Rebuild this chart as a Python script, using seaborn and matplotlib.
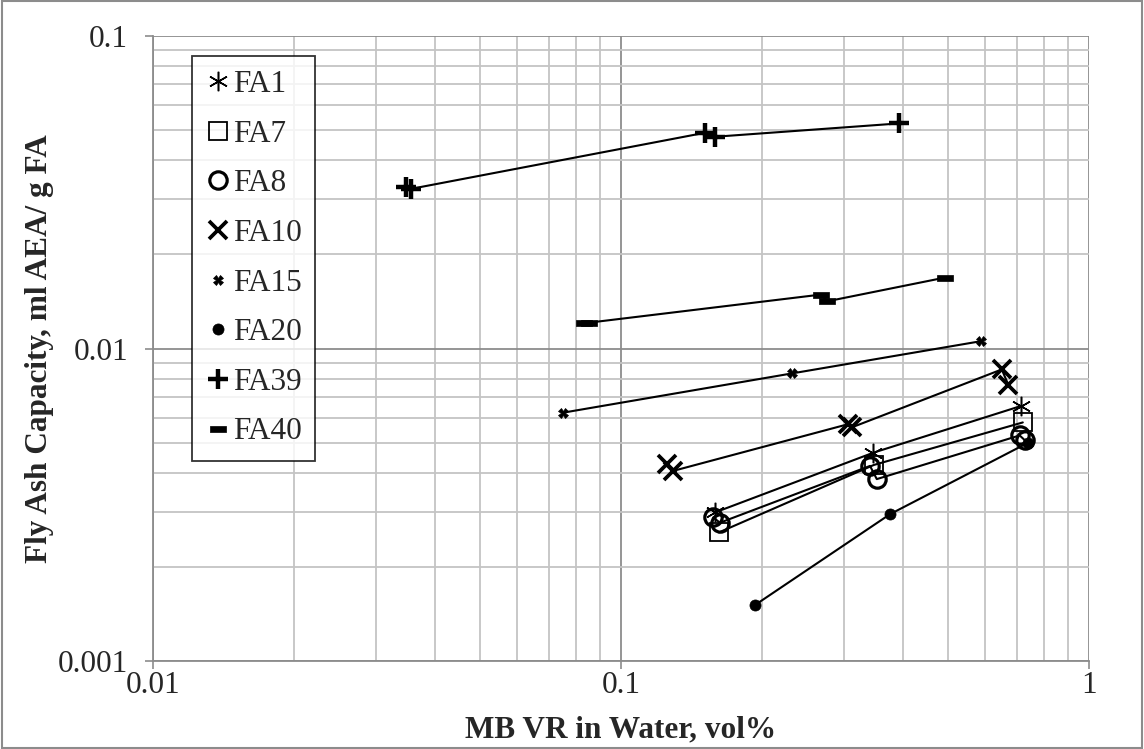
import numpy as np
import pandas as pd
import matplotlib
matplotlib.use('Agg')
import matplotlib.pyplot as plt
import seaborn as sns
from matplotlib.lines import Line2D
from matplotlib.patches import Rectangle

# values (x: MB VR vol%, y: ml AEA / g FA)
series = ['FA1', 'FA7', 'FA8', 'FA10', 'FA15', 'FA20', 'FA39', 'FA40']

fa1_x = [0.159, 0.346, 0.714]
fa1_y = [0.00299, 0.00464, 0.00654]
fa7_x = [0.162, 0.347, 0.722]
fa7_y = [0.00258, 0.00424, 0.00580]
fa8_x = [0.1575, 0.1627, 0.3405, 0.352, 0.711, 0.730]
fa8_y = [0.00288, 0.00277, 0.00421, 0.00382, 0.00527, 0.00508]
fa10_x = [0.1252, 0.1294, 0.305, 0.312, 0.651, 0.672]
fa10_y = [0.00426, 0.00406, 0.00572, 0.00560, 0.00857, 0.00767]
fa15_x = [0.0751, 0.2316, 0.587]
fa15_y = [0.00623, 0.00832, 0.01055]
fa20_x = [0.1933, 0.3757, 0.742]
fa20_y = [0.00151, 0.00295, 0.00500]
fa39_x = [0.0347, 0.0355, 0.151, 0.159, 0.392]
fa39_y = [0.0329, 0.0324, 0.0490, 0.0476, 0.0525]
fa40_x = [0.0835, 0.0855, 0.2675, 0.276, 0.492]
fa40_y = [0.0121, 0.0121, 0.01488, 0.01416, 0.01686]

xs = [fa1_x, fa7_x, fa8_x, fa10_x, fa15_x, fa20_x, fa39_x, fa40_x]
ys = [fa1_y, fa7_y, fa8_y, fa10_y, fa15_y, fa20_y, fa39_y, fa40_y]

df = pd.concat([pd.DataFrame({'series': s, 'x': x, 'y': y})
                for s, x, y in zip(series, xs, ys)], ignore_index=True)

x_ticks = [0.01, 0.1, 1]
x_labels = ['0.01', '0.1', '1']
y_ticks = [0.001, 0.01, 0.1]
y_labels = ['0.001', '0.01', '0.1']

dash = [(-1, -0.38), (1, -0.38), (1, 0.38), (-1, 0.38), (-1, -0.38)]
styles = {
    'FA1': dict(marker=(6, 2, 0), ms=14, mew=1.1, mfc='none'),
    'FA7': dict(marker='s', ms=12.5, mew=1.3, mfc='none'),
    'FA8': dict(marker='o', ms=12.5, mew=2.3, mfc='none'),
    'FA10': dict(marker='x', ms=13, mew=2.7, mfc='none'),
    'FA15': dict(marker='X', ms=6.5, mew=0.5, mfc='black'),
    'FA20': dict(marker='o', ms=8, mew=0.5, mfc='black'),
    'FA39': dict(marker='+', ms=15, mew=3.2, mfc='none'),
    'FA40': dict(marker=dash, ms=11, mew=0.5, mfc='black'),
}

sns.set_style('white')
plt.rcParams['font.family'] = ['Liberation Serif', 'DejaVu Serif']

fig = plt.figure(figsize=(11.44, 7.49), dpi=100)
ax = fig.add_axes([153 / 1144, 1 - 661 / 749, 936 / 1144, 625 / 749])

for s in series:
    sub = df[df['series'] == s]
    st = styles[s]
    sns.lineplot(data=sub, x='x', y='y', ax=ax, sort=False, estimator=None,
                 color='black', lw=1.5, marker=st['marker'], markersize=st['ms'],
                 markeredgewidth=st['mew'], markerfacecolor=st['mfc'],
                 markeredgecolor='black', legend=False)

ax.set_xscale('log')
ax.set_yscale('log')
ax.set_xlim(0.01, 1)
ax.set_ylim(0.001, 0.1)
ax.set_xticks(x_ticks)
ax.set_xticklabels(x_labels)
ax.set_yticks(y_ticks)
ax.set_yticklabels(y_labels)

ax.grid(True, which='major', color='#8c8c8c', lw=1.3)
ax.grid(True, which='minor', color='#c4c4c4', lw=1.3)
ax.set_axisbelow(True)
ax.tick_params(axis='both', which='major', labelsize=22.5, length=6, width=1.2,
               color='#8c8c8c', direction='out', bottom=True, left=True)
ax.tick_params(axis='x', which='major', pad=1)
ax.tick_params(axis='y', which='major', pad=12)
ax.tick_params(axis='both', which='minor', length=0)
for side, sp in ax.spines.items():
    sp.set_color('#8c8c8c')
    sp.set_linewidth(1.3)
ax.spines['top'].set_visible(False)
ax.spines['right'].set_visible(False)

ax.set_xlabel('MB VR in Water, vol%', fontsize=22.5, fontweight='bold', labelpad=11)
ax.set_ylabel('Fly Ash Capacity, ml AEA/ g FA', fontsize=22.5, fontweight='bold', labelpad=3)

handles = [Line2D([], [], ls='none', color='black', marker=styles[s]['marker'],
                  markersize=styles[s]['ms'], markeredgewidth=styles[s]['mew'],
                  markerfacecolor=styles[s]['mfc'], markeredgecolor='black')
           for s in series]
leg = ax.legend(handles, series, loc='upper left', bbox_to_anchor=(39 / 936, 1 - 20 / 625),
                fontsize=22.5, frameon=True, fancybox=False, edgecolor='black',
                handlelength=0.75, handletextpad=0.1, labelspacing=0.66,
                borderpad=0.45, borderaxespad=0)
leg.get_frame().set_linewidth(1.3)

fig.patches.append(Rectangle((0.002, 0.002), 0.996, 0.996, transform=fig.transFigure,
                             fill=False, edgecolor='#8c8c8c', lw=1.5))

fig.savefig('out.png', dpi=100)
